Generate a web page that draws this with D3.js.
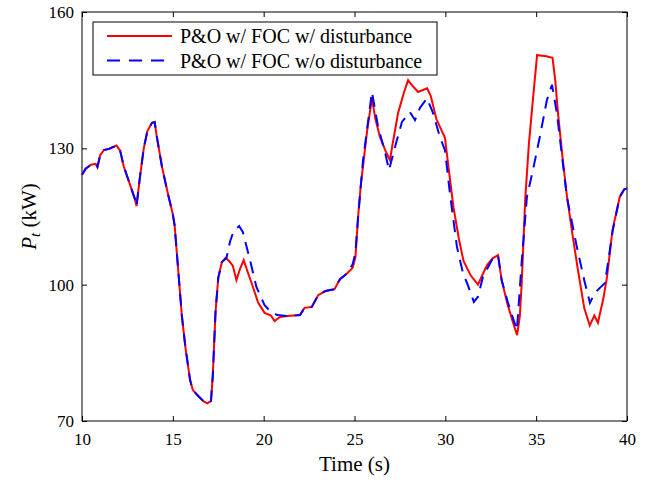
<!DOCTYPE html>
<html>
<head>
<meta charset="utf-8">
<script src="https://cdn.jsdelivr.net/npm/d3@7"></script>
<style>
  body { margin: 0; background: #fff; }
  svg text { font-family: "Liberation Serif", "Times New Roman", serif; fill: #000; }
</style>
</head>
<body>
<svg id="chart" width="648" height="480"></svg>
<script>
// P&O w/ FOC w/ disturbance
const timeA = [10, 10.2, 10.5, 10.75, 10.85, 11.0, 11.2, 11.5, 11.9, 12.1, 12.3, 12.6, 12.9, 13.0, 13.2, 13.4, 13.6, 13.85, 14.0, 14.1,
  14.4, 14.7, 15.0, 15.1, 15.3, 15.5, 15.7, 15.95, 16.1, 16.4, 16.7, 16.9, 17.1, 17.2, 17.35, 17.5, 17.7, 17.9, 18.1, 18.3,
  18.5, 18.7, 18.9, 19.1, 19.35, 19.7, 20.05, 20.4, 20.6, 20.9, 21.3, 22.0, 22.25, 22.65, 23.0, 23.4, 23.9, 24.2, 24.6, 24.9,
  25.05, 25.2, 25.35, 25.7, 25.96, 26.15, 26.4, 26.7, 26.95, 27.1, 27.4, 27.7, 27.95, 28.1, 28.5, 29.0, 29.2, 29.5, 29.98, 30.2,
  30.45, 30.75, 31.0, 31.4, 31.8, 32.0, 32.3, 32.6, 32.9, 33.1, 33.4, 33.7, 33.95, 34.1, 34.2, 34.4, 34.6, 34.85, 35.05, 35.5,
  35.9, 36.05, 36.2, 36.45, 36.7, 37.0, 37.3, 37.65, 37.95, 38.2, 38.4, 38.7, 38.9, 39.2, 39.6, 39.85, 40.0];
const powerA = [124.2, 125.5, 126.4, 126.6, 125.9, 128.5, 129.6, 129.9, 130.6, 129.5, 126, 122.5, 119, 117.3, 124, 130, 133.8, 135.6, 135.8, 133,
  126, 120.5, 115.5, 113, 103, 93, 86, 79, 76.8, 75.5, 74.3, 73.9, 74.4, 80, 94, 101.5, 105, 105.9, 105.2, 104.2,
  101, 103.5, 105.4, 103, 100.2, 96, 93.8, 93.2, 92, 92.9, 93.1, 93.3, 94.9, 95.1, 97.7, 98.6, 99, 101.2, 102.5, 103.7,
  106, 115, 122, 134, 141, 136.5, 132.5, 129.5, 127.4, 131, 137.8, 142, 145, 144.2, 142.4, 143.2, 141.5, 136.5, 132.3, 125,
  117, 110, 105.2, 102, 100, 101.8, 104.3, 105.8, 106.5, 101, 96, 92, 88.9, 93, 100, 119, 131, 142, 150.5, 150.3,
  149.9, 145, 137.8, 128, 119.3, 111, 103.2, 94.8, 91, 93.2, 91.6, 97, 101.7, 112, 119.3, 121, 121.2];

// P&O w/ FOC w/o disturbance
const timeB = [10, 10.2, 10.5, 10.75, 10.85, 11.0, 11.2, 11.5, 11.9, 12.1, 12.3, 12.6, 12.9, 13.0, 13.2, 13.4, 13.6, 13.85, 14.0, 14.1,
  14.4, 14.7, 15.0, 15.1, 15.3, 15.5, 15.7, 15.95, 16.1, 16.4, 16.7, 16.9, 17.1, 17.2, 17.35, 17.5, 17.7, 17.95, 18.15, 18.35,
  18.65, 18.85, 19.05, 19.25, 19.6, 20.05, 20.4, 20.75, 21.3, 22.0, 22.25, 22.65, 23.0, 23.4, 23.9, 24.2, 24.6, 24.9, 25.05, 25.2,
  25.47, 25.96, 26.3, 26.68, 26.9, 27.23, 27.61, 28.05, 28.33, 28.6, 28.99, 29.32, 29.7, 29.98, 30.25, 30.64, 30.97, 31.24, 31.57, 31.79,
  32.07, 32.56, 32.9, 33.1, 33.45, 33.94, 34.2, 34.49, 34.82, 35.2, 35.59, 35.87, 36.14, 36.69, 37.24, 37.68, 37.96, 38.23, 38.79, 39.22,
  39.6, 39.85, 40.0];
const powerB = [124.2, 125.5, 126.4, 126.6, 125.9, 128.5, 129.6, 129.9, 130.6, 129.5, 126, 122.5, 119, 117.3, 124, 130, 133.8, 135.6, 135.8, 133,
  126, 120.5, 115.5, 113, 103, 93, 86, 79, 76.8, 75.5, 74.3, 73.9, 74.4, 80, 94, 101.5, 105, 105.8, 109.5, 111.8,
  112.9, 111.6, 108.5, 105.4, 99.5, 95.5, 94, 93.3, 93.1, 93.3, 94.9, 95.1, 97.7, 98.6, 99, 101.2, 102.5, 104.5, 107, 115,
  127.4, 142.4, 134.7, 129.2, 125.2, 130.3, 135.8, 138, 136.2, 138.9, 141, 137.8, 132.5, 129.6, 120.2, 108.3, 102.6, 99.9, 96.2, 97.3,
  101.7, 105.4, 106.5, 101, 96, 90, 104.8, 119.3, 125.2, 132.5, 140.6, 144, 137.8, 119.3, 108.3, 100.4, 96, 98.2, 100.4, 112,
  119.3, 121, 121.2];

const xTicks = [10, 15, 20, 25, 30, 35, 40];
const yTicks = [70, 100, 130, 160];
const seriesNames = ['P&O w/ FOC w/ disturbance', 'P&O w/ FOC w/o disturbance'];

const margin = { top: 12, right: 21, bottom: 59, left: 82 };
const width = 648 - margin.left - margin.right;
const height = 480 - margin.top - margin.bottom;

const svg = d3.select('#chart').append('g').attr('transform', `translate(${margin.left}, ${margin.top})`);

const x = d3.scaleLinear().domain([10, 40]).range([0, width]);
const y = d3.scaleLinear().domain([70, 160]).range([height, 0]);

// оси с тиками внутрь на всех четырёх сторонах
const tickStyle = g => {
  g.selectAll('.domain').remove();
  g.selectAll('.tick line').attr('stroke', '#000');
};
svg.append('g').attr('transform', `translate(0, ${height})`)
  .call(d3.axisBottom(x).tickValues(xTicks).tickSize(-5).tickPadding(12).tickFormat(d3.format('d')))
  .call(tickStyle)
  .selectAll('.tick text').style('font-size', '17px').attr('dy', '0.71em');
svg.append('g')
  .call(d3.axisTop(x).tickValues(xTicks).tickSize(-5).tickFormat(''))
  .call(tickStyle);
svg.append('g')
  .call(d3.axisLeft(y).tickValues(yTicks).tickSize(-5).tickPadding(8))
  .call(tickStyle)
  .selectAll('.tick text').style('font-size', '17px');
svg.append('g').attr('transform', `translate(${width}, 0)`)
  .call(d3.axisRight(y).tickValues(yTicks).tickSize(-5).tickFormat(''))
  .call(tickStyle);

svg.append('rect')
  .attr('width', width).attr('height', height)
  .attr('fill', 'none').attr('stroke', '#000').attr('stroke-width', 1);

// линии
const line = d3.line().x(d => x(d[0])).y(d => y(d[1]));
svg.append('path')
  .datum(d3.zip(timeA, powerA))
  .attr('d', line)
  .attr('fill', 'none').attr('stroke', '#ff0000').attr('stroke-width', 2);
svg.append('path')
  .datum(d3.zip(timeB, powerB))
  .attr('d', line)
  .attr('fill', 'none').attr('stroke', '#0000ff').attr('stroke-width', 2)
  .attr('stroke-dasharray', '12,8');

// легенда
const legend = svg.append('g').attr('transform', 'translate(11, 10)');
legend.append('rect')
  .attr('width', 344).attr('height', 53)
  .attr('fill', '#fff').attr('stroke', '#000').attr('stroke-width', 1);
seriesNames.forEach((name, i) => {
  const yy = 14 + i * 24.5;
  legend.append('line')
    .attr('x1', 14).attr('x2', 79).attr('y1', yy).attr('y2', yy)
    .attr('stroke', i === 0 ? '#ff0000' : '#0000ff').attr('stroke-width', 2)
    .attr('stroke-dasharray', i === 0 ? null : '13,9');
  legend.append('text')
    .attr('x', 87).attr('y', yy + 7)
    .style('font-size', '20px')
    .text(name);
});

// подписи осей
svg.append('text')
  .attr('x', width / 2).attr('y', height + 50)
  .attr('text-anchor', 'middle')
  .style('font-size', '21px')
  .text('Time (s)');

const yLabel = svg.append('text')
  .attr('transform', `translate(${-46}, ${height / 2}) rotate(-90)`)
  .attr('text-anchor', 'middle')
  .style('font-size', '21px');
yLabel.append('tspan').style('font-style', 'italic').text('P');
yLabel.append('tspan').attr('dy', 4).style('font-size', '15px').style('font-style', 'italic').text('t');
yLabel.append('tspan').attr('dy', -4).text(' (kW)');
</script>
</body>
</html>
